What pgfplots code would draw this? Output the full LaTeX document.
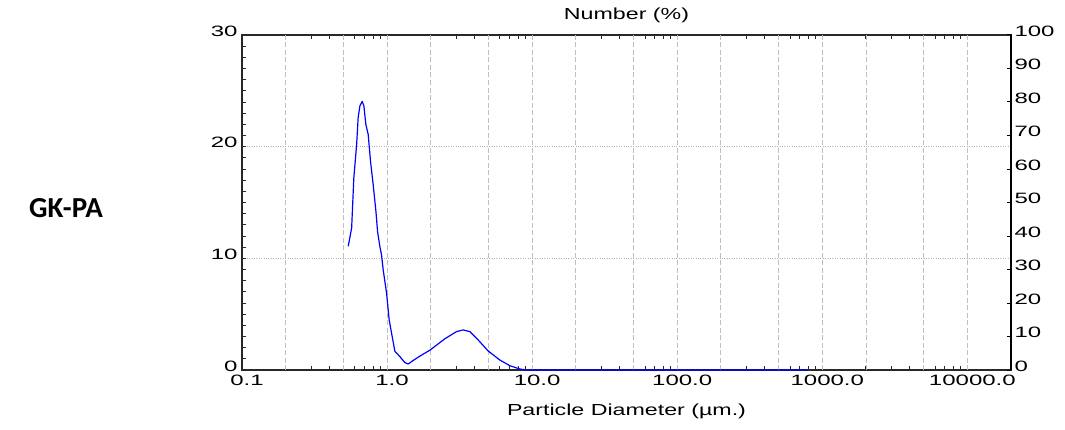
\documentclass[border=0pt]{standalone}
\usepackage{fontspec}
\setmainfont{Liberation Sans}
\newfontfamily\samplefont{Carlito}
\usepackage{graphicx}
\usepackage{pgfplots}
\pgfplotsset{compat=1.18}

% the instrument's lettering is set wide
\newcommand{\tl}[1]{\scalebox{1.6}[1]{#1}}
\newcommand{\al}[1]{\scalebox{1.45}[1]{#1}}

\definecolor{curveblue}{RGB}{0,0,255}
\definecolor{axisgray}{RGB}{40,40,40}

\begin{document}
\begin{tikzpicture}[x=1pt,y=1pt]
\path (0,0) rectangle (1065,429);
\node[font=\samplefont\bfseries\fontsize{29}{33}\selectfont] at (66,221) {GK-PA};

\begin{axis}[
  at={(242pt,59pt)}, anchor=south west,
  scale only axis, width=769pt, height=335pt,
  clip mode=individual,
  xmode=log, xmin=0.1, xmax=20000,
  ymin=0, ymax=30,
  axis line style={axisgray, line width=1.3pt},
  tick style={axisgray, line width=1pt},
  tick align=inside,
  major tick length=4pt, minor tick length=4pt,
  xtick pos=both, ytick pos=left,
  xtick={0.1,1,10,100,1000,10000},
  xticklabels={\tl{0.1},\tl{1.0},\tl{10.0},\tl{100.0},\tl{1000.0},\tl{10000.0}},
  minor xtick={0.2,0.3,0.4,0.5,0.6,0.7,0.8,0.9,
               2,3,4,5,6,7,8,9,
               20,30,40,50,60,70,80,90,
               200,300,400,500,600,700,800,900,
               2000,3000,4000,5000,6000,7000,8000,9000},
  ytick={0,10,20,30},
  yticklabels={\tl{0},\tl{10},\tl{20},\tl{30}},
  minor ytick={1,2,3,4,5,6,7,8,9,11,12,13,14,15,16,17,18,19,21,22,23,24,25,26,27,28,29},
  tick label style={font=\fontsize{15}{17}\selectfont},
  xticklabel style={anchor=north, xshift=5pt, yshift=-1pt},
  yticklabel style={anchor=east, yshift=4pt, xshift=-1pt},
  ymajorgrids,
  major grid style={gray!60, dotted, line width=0.7pt},
  extra x ticks={0.2,0.5,1,2,5,10,20,50,100,200,500,1000,2000,5000,10000},
  extra x tick labels={},
  extra x tick style={grid=major, major tick length=0pt,
    major grid style={gray!50, dash pattern=on 5pt off 2.5pt, line width=0.8pt}},
]
% number distribution
\addplot[curveblue, line width=1.2pt, line join=round] coordinates {
  (0.540,11.08) (0.570,12.73) (0.590,17.2) (0.617,20.2) (0.632,22.6)
  (0.650,23.66) (0.674,24.05) (0.692,23.66) (0.714,22.0) (0.741,21.1)
  (0.769,18.7) (0.802,16.6) (0.838,14.2) (0.860,12.4) (0.891,11.1)
  (0.916,10.3) (0.940,8.98) (0.992,6.89) (1.034,4.49) (1.074,3.30)
  (1.132,1.68) (1.225,1.20) (1.327,0.66) (1.398,0.54) (1.513,0.85)
  (1.710,1.30) (1.971,1.77) (2.50,2.79) (3.01,3.44) (3.34,3.59)
  (3.72,3.44) (4.24,2.70) (4.97,1.71) (5.98,0.90) (7.01,0.39)
  (8.22,0.09) (9.14,0) (10,0) (20,0) (50,0) (100,0) (200,0) (500,0) (791,0)
};
\node[font=\fontsize{16}{19}\selectfont] at (rel axis cs:0.5,1) [yshift=20pt] {\al{Number (\%)}};
\node[font=\fontsize{16}{19}\selectfont] at (rel axis cs:0.5,0) [yshift=-41pt] {\al{Particle Diameter (µm.)}};
\end{axis}

\begin{axis}[
  at={(242pt,59pt)}, anchor=south west,
  scale only axis, width=769pt, height=335pt,
  xmode=log, xmin=0.1, xmax=20000,
  ymin=0, ymax=100,
  axis x line=none, axis y line*=right,
  axis line style={black, line width=1.3pt},
  tick style={black, line width=1pt},
  tick align=inside, major tick length=4pt,
  ytick={0,10,20,30,40,50,60,70,80,90,100},
  yticklabels={\tl{0},\tl{10},\tl{20},\tl{30},\tl{40},\tl{50},\tl{60},\tl{70},\tl{80},\tl{90},\tl{100}},
  tick label style={font=\fontsize{15}{17}\selectfont},
  yticklabel style={anchor=west, yshift=4pt, xshift=0pt},
]
\end{axis}
\end{tikzpicture}
\end{document}
